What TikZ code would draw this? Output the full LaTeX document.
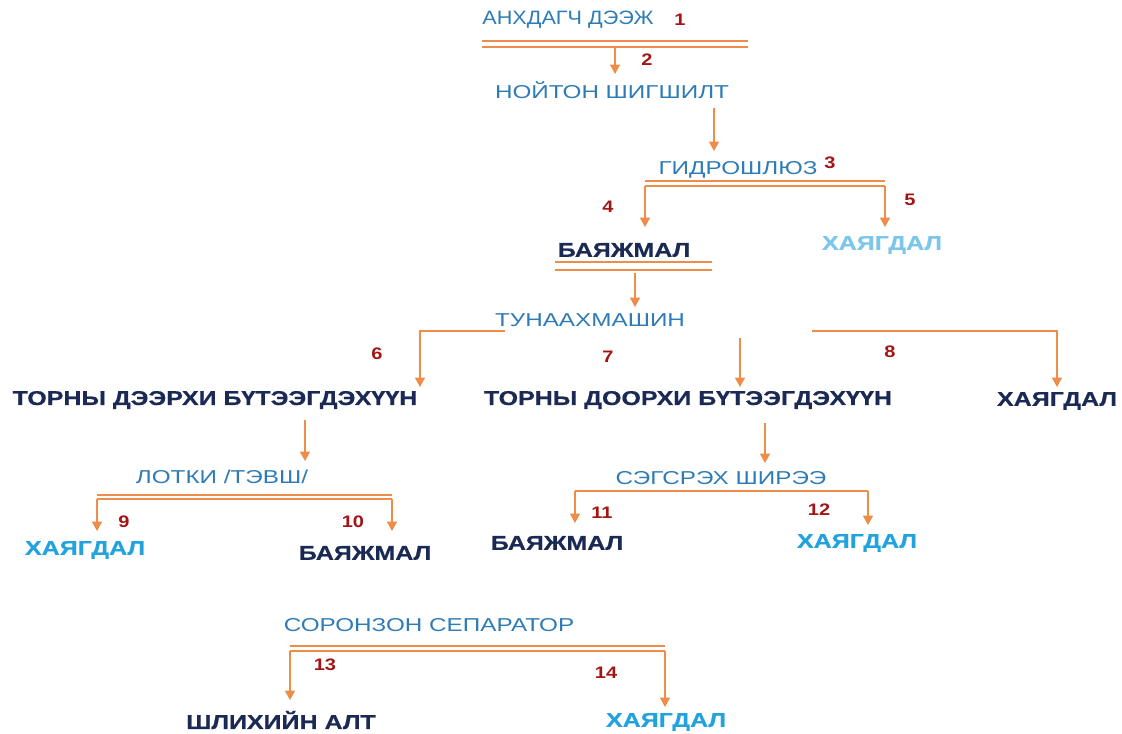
\documentclass[tikz,border=0pt]{standalone}
\usepackage{fontspec}
\setmainfont{Liberation Sans}
\newfontfamily\stagefont{Liberation Sans}[FakeStretch=1.3]
\newfontfamily\topfont{Liberation Sans}[FakeStretch=1.12]
\newfontfamily\widefont{Liberation Sans}[FakeStretch=1.25,BoldFeatures={FakeBold=0.5}]
\newfontfamily\numfont{Liberation Sans}[FakeStretch=1.2]
\usetikzlibrary{arrows.meta}
\definecolor{orng}{HTML}{EE8D4A}
\definecolor{stepblue}{HTML}{2F7BB5}
\definecolor{numred}{HTML}{A31515}
\definecolor{navy}{HTML}{1B2A55}
\definecolor{paleblue}{HTML}{7CC6EC}
\definecolor{cyanblue}{HTML}{22A3DD}
\begin{document}
\begin{tikzpicture}[x=0.75pt,y=-0.75pt,
  stage/.style={text=stepblue,font=\stagefont\fontsize{14}{16}\selectfont,inner sep=0pt},
  topstage/.style={text=stepblue,font=\topfont\fontsize{14.5}{16}\selectfont,inner sep=0pt},
  prod/.style={text=navy,font=\widefont\bfseries\fontsize{15}{18}\selectfont,inner sep=0pt},
  palewaste/.style={prod,text=paleblue},
  waste/.style={prod,text=cyanblue},
  num/.style={text=numred,font=\numfont\bfseries\fontsize{12.5}{14}\selectfont,inner sep=0pt},
  flow/.style={draw=orng,line width=1pt,-{Triangle[length=7pt,width=7.5pt]}},
  bar/.style={draw=orng,line width=1pt},
  thickbar/.style={draw=orng,line width=1.8pt}
]
\useasboundingbox (0,0) rectangle (1122,733);

% texts
\node[topstage] (n1) at (568,20) {АНХДАГЧ ДЭЭЖ};
\node[num] (k1) at (680,20) {1};
\node[stage] (n2) at (612,90) {НОЙТОН ШИГШИЛТ};
\node[num] (k2) at (647,60) {2};
\node[stage] (n3) at (738,170) {ГИДРОШЛЮЗ};
\node[num] (k3) at (830,163) {3};
\node[num] (k4) at (608,207) {4};
\node[num] (k5) at (910,200) {5};
\node[prod] (n4) at (624,250) {БАЯЖМАЛ};
\node[palewaste] (n5) at (882,245) {ХАЯГДАЛ};
\node[stage] (n6) at (590,320) {ТУНААХМАШИН};
\node[num] (k6) at (377,354) {6};
\node[num] (k7) at (608,357) {7};
\node[num] (k8) at (890,352) {8};
\node[prod] (n7) at (215,400) {ТОРНЫ ДЭЭРХИ БҮТЭЭГДЭХҮҮН};
\node[prod] (n8) at (688,400) {ТОРНЫ ДООРХИ БҮТЭЭГДЭХҮҮН};
\node[prod] (n9) at (1057,401) {ХАЯГДАЛ};
\node[stage] (n10) at (222,477) {ЛОТКИ /ТЭВШ/};
\node[num] (k9) at (124,522) {9};
\node[num] (k10) at (353,522) {10};
\node[waste] (n11) at (85,550) {ХАЯГДАЛ};
\node[prod] (n12) at (365,553) {БАЯЖМАЛ};
\node[stage] (n13) at (721,478) {СЭГСРЭХ ШИРЭЭ};
\node[num] (k11) at (602,513) {11};
\node[num] (k12) at (819,510) {12};
\node[prod] (n14) at (557,543) {БАЯЖМАЛ};
\node[waste] (n15) at (857,543) {ХАЯГДАЛ};
\node[stage] (n16) at (429,625) {СОРОНЗОН СЕПАРАТОР};
\node[num] (k13) at (325,665) {13};
\node[num] (k14) at (606,673) {14};
\node[prod] (n17) at (281,720) {ШЛИХИЙН АЛТ};
\node[waste] (n18) at (666,722) {ХАЯГДАЛ};

% coordinates
\coordinate (b1l) at (482,41); \coordinate (b1r) at (748,41);
\coordinate (b1L) at (482,47); \coordinate (b1R) at (748,47);
\coordinate (a1s) at (615,47); \coordinate (a1e) at (615,74);
\coordinate (a2s) at (714,108); \coordinate (a2e) at (714,151);
\coordinate (b3l) at (645,181); \coordinate (b3r) at (885,181);
\coordinate (b3L) at (645,186); \coordinate (b3R) at (885,186);
\coordinate (a4e) at (645,227); \coordinate (a5e) at (885,227);
\coordinate (b4l) at (555,262); \coordinate (b4r) at (712,262);
\coordinate (b4L) at (555,270); \coordinate (b4R) at (712,270);
\coordinate (a6s) at (635,273); \coordinate (a6e) at (635,307);
\coordinate (l6s) at (505,331); \coordinate (l6c) at (420,331); \coordinate (l6e) at (420,387);
\coordinate (m7s) at (740,338); \coordinate (m7e) at (740,387);
\coordinate (r8s) at (812,331); \coordinate (r8c) at (1057,331); \coordinate (r8e) at (1057,387);
\coordinate (a7s) at (305,420); \coordinate (a7e) at (305,461);
\coordinate (a8s) at (765,423); \coordinate (a8e) at (765,463);
\coordinate (b10l) at (97,495); \coordinate (b10r) at (392,495);
\coordinate (b10L) at (97,499); \coordinate (b10R) at (392,499);
\coordinate (a9e) at (97,531); \coordinate (a10e) at (392,531);
\coordinate (b13l) at (575,491); \coordinate (b13r) at (868,491);
\coordinate (a11e) at (575,523); \coordinate (a12e) at (868,525);
\coordinate (b16l) at (290,646); \coordinate (b16r) at (665,646);
\coordinate (b16L) at (290,651); \coordinate (b16R) at (665,651);
\coordinate (a13e) at (290,700); \coordinate (a14e) at (665,707);

% bars
\draw[thickbar] (b1l) -- (b1r);
\draw[bar] (b1L) -- (b1R);
\draw[bar] (b3l) -- (b3r);
\draw[bar] (b3L) -- (b3R);
\draw[bar] (b4l) -- (b4r);
\draw[bar] (b4L) -- (b4R);
\draw[thickbar] (b10l) -- (b10r);
\draw[bar] (b10L) -- (b10R);
\draw[draw=orng,line width=2.2pt] (b13l) -- (b13r);
\draw[thickbar] (b16l) -- (b16r);
\draw[bar] (b16L) -- (b16R);

% arrows
\draw[flow] (a1s) -- (a1e);
\draw[flow] (a2s) -- (a2e);
\draw[flow] (b3L) -- (a4e);
\draw[flow] (b3R) -- (a5e);
\draw[flow] (a6s) -- (a6e);
\draw[flow] (l6s) -- (l6c) -- (l6e);
\draw[flow] (m7s) -- (m7e);
\draw[flow] (r8s) -- (r8c) -- (r8e);
\draw[flow] (a7s) -- (a7e);
\draw[flow] (a8s) -- (a8e);
\draw[flow] (b10L) -- (a9e);
\draw[flow] (b10R) -- (a10e);
\draw[flow] (b13l) -- (a11e);
\draw[flow] (b13r) -- (a12e);
\draw[flow] (b16L) -- (a13e);
\draw[flow] (b16R) -- (a14e);
\end{tikzpicture}
\end{document}
